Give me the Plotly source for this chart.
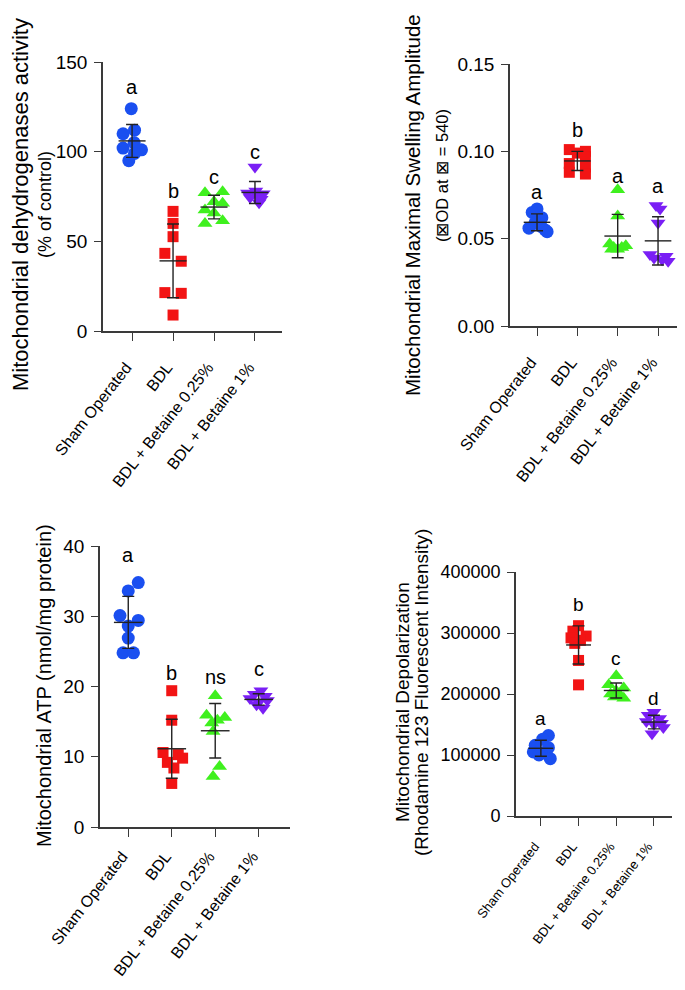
import plotly.graph_objects as go
import numpy as np

# ---------------- data ----------------
groups = ["Sham Operated", "BDL", "BDL + Betaine 0.25%", "BDL + Betaine 1%"]

# Panel A: mitochondrial dehydrogenases activity (% of control)
dh_sham = [124, 112, 110, 105, 102, 101, 99, 95]
dh_bdl = [66.7, 60, 52.6, 43.3, 38.9, 21.4, 21, 8.9]
dh_b025 = [77.1, 77.7, 72.1, 67.5, 71.2, 65.8, 60, 61.5]
dh_b1 = [91.5, 78, 77, 76.5, 75.5, 74.5, 73.5, 71.5]
dh_letters = ["a", "b", "c", "c"]

# Panel B: maximal swelling amplitude
sw_sham = [0.067, 0.065, 0.062, 0.059, 0.057, 0.056, 0.055, 0.054]
sw_bdl = [0.101, 0.100, 0.099, 0.097, 0.093, 0.091, 0.088, 0.087]
sw_b025 = [0.078, 0.063, 0.047, 0.046, 0.045, 0.045, 0.044, 0.044]
sw_b1 = [0.069, 0.067, 0.059, 0.041, 0.040, 0.039, 0.038, 0.037]
sw_letters = ["a", "b", "a", "a"]

# Panel C: ATP (nmol/mg protein)
atp_sham = [34.8, 33.6, 30.1, 29.4, 28.6, 26.9, 24.8, 24.8]
atp_bdl = [19.4, 15.2, 10.6, 10.3, 9.8, 9.2, 8.4, 6.2]
atp_b025 = [18.7, 15.9, 15.6, 15.2, 14.8, 13.6, 8.6, 7.2]
atp_b1 = [19.4, 18.9, 18.6, 18.3, 18.0, 17.8, 17.4, 16.9]
atp_letters = ["a", "b", "ns", "c"]

# Panel D: depolarization (Rhodamine 123 fluorescence)
dp_sham = [132000, 126000, 116000, 112000, 105000, 103000, 100000, 94000]
dp_bdl = [312000, 303000, 295000, 292000, 288000, 283000, 255000, 215000]
dp_b025 = [230000, 215000, 210000, 205000, 200000, 198000, 195000, 193000]
dp_b1 = [170000, 165000, 160000, 155000, 152000, 150000, 145000, 135000]
dp_letters = ["a", "b", "c", "d"]

# ---------------- styling / layout helpers ----------------
COLORS = ["#1a4ff0", "#f21414", "#3ff01e", "#7a1ff5"]
SYMBOLS = ["circle", "square", "triangle-up", "triangle-down"]
SIZES = [13, 11, 13, 13]
# horizontal jitter of points within a column (category units)
JIT = [
    [[-0.02, 0.06, -0.22, 0.05, -0.22, 0.23, 0.06, -0.08],
     [0, 0, 0, -0.2, 0.2, -0.2, 0.2, 0],
     [-0.22, 0.21, 0, -0.22, 0.21, 0, -0.22, 0.21],
     [0, 0.02, -0.18, 0.2, 0.05, -0.12, 0.15, 0.1]],
    [[0, -0.12, 0.12, -0.05, 0.1, -0.2, 0.2, 0.25],
     [-0.2, 0.2, 0, 0.2, -0.2, 0.2, -0.2, 0.2],
     [0, 0, -0.2, 0.2, -0.1, 0.1, 0.0, -0.15],
     [-0.05, 0.05, 0, -0.2, 0.2, -0.1, 0.1, 0.25]],
    [[0.23, 0, -0.19, 0.23, 0, 0, -0.12, 0.12],
     [0, 0, -0.2, 0.15, 0.25, -0.1, 0.05, 0],
     [0, -0.2, 0.22, 0.05, -0.08, -0.05, 0.1, -0.05],
     [0.05, -0.1, 0.15, -0.2, 0.2, 0, -0.05, 0.1]],
    [[0.2, 0.05, -0.15, 0.2, -0.2, 0.0, -0.05, 0.25],
     [0, -0.15, 0.2, -0.2, 0.05, -0.1, 0, 0],
     [0, -0.2, 0.2, 0, -0.15, 0.1, -0.05, 0.2],
     [0, -0.15, 0.15, -0.2, 0.2, 0, 0.25, -0.05]],
]

# page -> figure paper coordinates (the page body has an 8px margin)
OFF = 8
W, H = 685 - 2 * OFF, 990 - 2 * OFF


def fx(px):
    return min(max((px - OFF) / W, 0), 1)


def fy(py):
    return min(max(1 - (py - OFF) / H, 0), 1)


panels = [
    dict(data=[dh_sham, dh_bdl, dh_b025, dh_b1], letters=dh_letters,
         letter_y=[136, 78, 86, 100],
         xd=[103, 282], yd=[331, 62], xr=[-0.71, 3.66], yr=[0, 150], dtick=50, fmt="d",
         tickfont=19, catfont=16, letfont=20, standoff=11),
    dict(data=[sw_sham, sw_bdl, sw_b025, sw_b1], letters=sw_letters,
         letter_y=[0.077, 0.112, 0.086, 0.080],
         xd=[510, 677], yd=[326, 64], xr=[-0.67, 3.47], yr=[0, 0.15], dtick=0.05, fmt=".2f",
         tickfont=19, catfont=16, letfont=20, standoff=11),
    dict(data=[atp_sham, atp_bdl, atp_b025, atp_b1], letters=atp_letters,
         letter_y=[38.7, 21.9, 21.4, 22.5],
         xd=[100, 290], yd=[827, 546], xr=[-0.65, 3.72], yr=[0, 40], dtick=10, fmt="d",
         tickfont=19, catfont=16, letfont=20, standoff=4),
    dict(data=[dp_sham, dp_bdl, dp_b025, dp_b1], letters=dp_letters,
         letter_y=[160600, 346400, 257400, 193400],
         xd=[516, 672], yd=[816, 572], xr=[-0.66, 3.48], yr=[0, 400000], dtick=100000, fmt="d",
         tickfont=18, catfont=13, letfont=19, standoff=8),
]

FONT = "Arial, Liberation Sans, Helvetica, sans-serif"
AX = "#3a3a3a"

fig = go.Figure()
annotations = []
layout = {}

for p_i, p in enumerate(panels):
    n = "" if p_i == 0 else str(p_i + 1)
    xref, yref = "x" + n, "y" + n
    for g_i, vals in enumerate(p["data"]):
        xs = [g_i + j for j in JIT[p_i][g_i][:len(vals)]]
        fig.add_trace(go.Scatter(
            x=xs, y=vals, mode="markers", xaxis=xref, yaxis=yref,
            marker=dict(symbol=SYMBOLS[g_i], color=COLORS[g_i], size=SIZES[g_i],
                        line=dict(width=0)),
            showlegend=False, hoverinfo="skip"))
        m = float(np.mean(vals))
        sd = float(np.std(vals, ddof=1))
        # mean line
        fig.add_trace(go.Scatter(
            x=[g_i - 0.33, g_i + 0.33], y=[m, m], mode="lines", xaxis=xref, yaxis=yref,
            line=dict(color="#222222", width=1.4), showlegend=False, hoverinfo="skip"))
        # SD error bar
        fig.add_trace(go.Scatter(
            x=[g_i], y=[m], mode="markers", xaxis=xref, yaxis=yref,
            marker=dict(size=1, color="rgba(0,0,0,0)"),
            error_y=dict(type="data", array=[sd], visible=True, color="#222222",
                         thickness=1.4, width=6),
            showlegend=False, hoverinfo="skip"))
        annotations.append(dict(
            x=g_i, y=p["letter_y"][g_i], xref=xref, yref=yref, text=p["letters"][g_i],
            showarrow=False, xanchor="center", yanchor="middle",
            font=dict(family=FONT, size=p["letfont"], color="black")))

    layout["xaxis" + n] = dict(
        domain=[fx(p["xd"][0]), fx(p["xd"][1])], range=p["xr"], anchor=yref,
        automargin=False,
        tickmode="array", tickvals=[0, 1, 2, 3], ticktext=groups, tickangle=-52,
        ticklabelstandoff=p["standoff"], ticklabelshift=-6,
        ticks="outside", ticklen=8, tickwidth=1.4, tickcolor=AX,
        showline=True, linecolor=AX, linewidth=1.6, showgrid=False, zeroline=False,
        tickfont=dict(family=FONT, size=p["catfont"], color="black"))
    layout["yaxis" + n] = dict(
        domain=[fy(p["yd"][0]), fy(p["yd"][1])], range=p["yr"], anchor=xref,
        automargin=False,
        tickmode="linear", tick0=0, dtick=p["dtick"], tickformat=p["fmt"],
        ticks="outside", ticklen=7, tickwidth=1.4, tickcolor=AX, ticklabelstandoff=3,
        showline=True, linecolor=AX, linewidth=1.6, showgrid=False, zeroline=False,
        tickfont=dict(family=FONT, size=p["tickfont"], color="black"))

# axis titles: (text, centre x, centre y on page, font size)
titles = [
    ("Mitochondrial dehydrogenases activity", 21, 205, 22),
    ("(% of control)", 45, 205, 18),
    ("Mitochondrial Maximal Swelling Amplitude", 413, 205, 20.5),
    ("(\u22a0OD at \u22a0 = 540)", 442, 176, 16.5),
    ("Mitochondrial ATP (nmol/mg protein)", 44, 686, 20),
    ("Mitochondrial Depolarization", 402, 702, 19),
    ("(Rhodamine 123 Fluorescent Intensity)", 421, 693, 19),
]
for t, x, y, s in titles:
    annotations.append(dict(
        x=fx(x), y=fy(y), xref="paper", yref="paper", text=t, textangle=-90,
        showarrow=False, xanchor="center", yanchor="middle",
        font=dict(family=FONT, size=s, color="black")))

fig.update_layout(
    width=W, height=H, margin=dict(l=0, r=0, t=0, b=0, autoexpand=False),
    paper_bgcolor="white", plot_bgcolor="white",
    annotations=annotations, **layout)

fig.write_html("out.html")
